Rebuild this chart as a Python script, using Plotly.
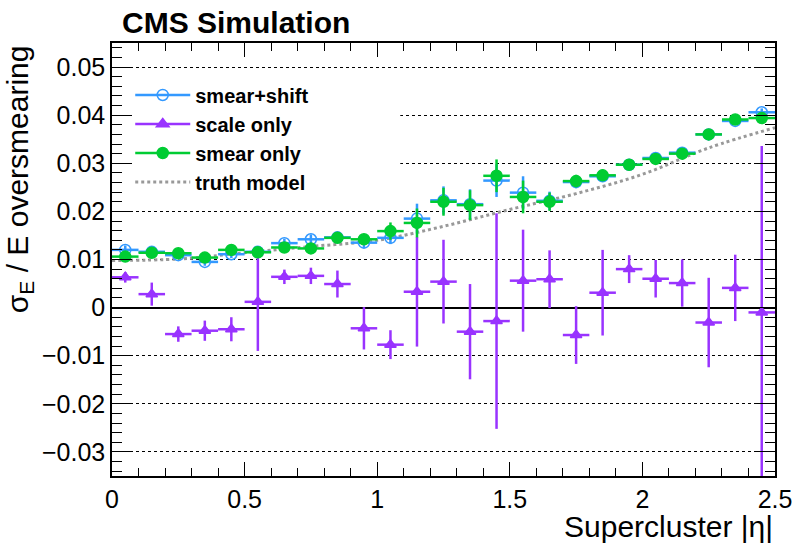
import plotly.graph_objects as go

# |eta| bins, width 0.1
eta_centers = [0.05, 0.15, 0.25, 0.35, 0.45, 0.55, 0.65, 0.75, 0.85, 0.95,
               1.05, 1.15, 1.25, 1.35, 1.45, 1.55, 1.65, 1.75, 1.85, 1.95,
               2.05, 2.15, 2.25, 2.35, 2.45]
eta_halfwidth = [0.05] * 25

smear_shift = [0.0120, 0.0116, 0.0109, 0.0095, 0.0111, 0.0116, 0.0134, 0.0142, 0.0146, 0.0135,
               0.0145, 0.0185, 0.0223, 0.0215, 0.0264, 0.0239, 0.0222, 0.0261, 0.0273, 0.0297,
               0.0311, 0.0322, 0.0360, 0.0388, 0.0406]
smear_shift_err = [0.0009, 0.0007, 0.0007, 0.0008, 0.0008, 0.0008, 0.0009, 0.0010, 0.0010, 0.0011,
                   0.0013, 0.0031, 0.0029, 0.0031, 0.0034, 0.0034, 0.0019, 0.0013, 0.0012, 0.0009,
                   0.0008, 0.0008, 0.0008, 0.0008, 0.0008]

scale_only = [0.0063, 0.0028, -0.0055, -0.0048, -0.0045, 0.0012, 0.0064, 0.0066, 0.0049, -0.0043,
              -0.0077, 0.0033, 0.0054, -0.0050, -0.0028, 0.0056, 0.0059, -0.0057, 0.0031, 0.0080,
              0.0060, 0.0051, -0.0031, 0.0041, -0.0010]
scale_only_err = [0.0011, 0.0024, 0.0016, 0.0021, 0.0025, 0.0102, 0.0015, 0.0017, 0.0028, 0.0044,
                  0.0030, 0.0114, 0.0087, 0.0099, 0.0224, 0.0106, 0.0060, 0.0060, 0.0089, 0.0029,
                  0.0039, 0.0049, 0.0093, 0.0069, 0.0346]

smear_only = [0.0106, 0.0114, 0.0113, 0.0104, 0.0120, 0.0115, 0.0125, 0.0123, 0.0145, 0.0142,
              0.0159, 0.0176, 0.0220, 0.0213, 0.0274, 0.0230, 0.0220, 0.0263, 0.0275, 0.0297,
              0.0309, 0.0320, 0.0360, 0.0391, 0.0394]
smear_only_err = [0.0007, 0.0006, 0.0006, 0.0007, 0.0008, 0.0007, 0.0008, 0.0009, 0.0009, 0.0010,
                  0.0018, 0.0030, 0.0029, 0.0031, 0.0034, 0.0034, 0.0019, 0.0013, 0.0012, 0.0008,
                  0.0008, 0.0008, 0.0008, 0.0007, 0.0007]

truth_eta = [0.0, 0.25, 0.5, 0.75, 1.0, 1.25, 1.5, 1.75, 2.0, 2.25, 2.5]
truth_model = [0.0098, 0.0101, 0.0114, 0.0127, 0.0140, 0.0169, 0.0204, 0.0237, 0.0277, 0.0332, 0.0374]

BLUE = "#3399ff"
PURPLE = "#9933ff"
GREEN = "#00cc33"
GREY = "#999999"
FONT = "Liberation Sans, Arial, sans-serif"

fig = go.Figure()

def data_trace(y, err, color, symbol, size):
    return go.Scatter(
        x=eta_centers, y=y, mode="markers", showlegend=False,
        marker=dict(color=color, symbol=symbol, size=size, line=dict(color=color, width=1.5)),
        error_y=dict(type="data", array=err, color=color, thickness=2.5, width=0),
        error_x=dict(type="data", array=eta_halfwidth, color=color, thickness=2.5, width=0),
    )

fig.add_trace(go.Scatter(x=truth_eta, y=truth_model, mode="lines", showlegend=False,
                         line=dict(color=GREY, width=3, dash="dot", shape="spline")))
fig.add_trace(data_trace(smear_shift, smear_shift_err, BLUE, "circle-open", 11))
fig.add_trace(data_trace(scale_only, scale_only_err, PURPLE, "triangle-up", 10))
fig.add_trace(data_trace(smear_only, smear_only_err, GREEN, "circle", 11))

# legend entries
legend_items = [
    ("smear+shift", BLUE, "circle-open", "lines+markers", "solid"),
    ("scale only", PURPLE, "triangle-up", "lines+markers", "solid"),
    ("smear only", GREEN, "circle", "lines+markers", "solid"),
    ("truth model", GREY, "circle", "lines", "dot"),
]
for i, (name, color, symbol, mode, dash) in enumerate(legend_items):
    fig.add_trace(go.Scatter(
        x=[None], y=[None], name=name, mode=mode, legendgroup=str(i),
        line=dict(color=color, width=3 if dash == "dot" else 2.5, dash=dash),
        marker=dict(color=color, symbol=symbol, size=11, line=dict(color=color, width=1.5)),
    ))

# white box behind the legend hides the grid there
fig.add_shape(type="rect", xref="x", yref="y", x0=0.0, x1=1.087, y0=0.0240, y1=0.0470,
              fillcolor="white", line=dict(width=0), layer="between")

fig.add_annotation(text="<b>CMS Simulation</b>", xref="paper", yref="paper",
                   x=0.0125, y=1.048, xanchor="left", yanchor="middle", showarrow=False,
                   font=dict(family=FONT, size=30, color="black"))
fig.add_annotation(text="Supercluster |η|", xref="paper", yref="paper",
                   x=1.0, y=-0.117, xanchor="right", yanchor="middle", showarrow=False,
                   font=dict(family=FONT, size=30, color="black"))
fig.add_annotation(text="σ<sub>E</sub> / E oversmearing", xref="paper", yref="paper",
                   x=-0.14, y=1.0, xanchor="center", yanchor="top", textangle=-90,
                   showarrow=False, font=dict(family=FONT, size=30, color="black"))

fig.update_layout(
    width=798, height=548,
    margin=dict(l=112, r=23, t=43, b=72, autoexpand=False),
    plot_bgcolor="white", paper_bgcolor="white",
    font=dict(family=FONT, color="black"),
    legend=dict(x=0.0275, y=0.925, xanchor="left", yanchor="top",
                bgcolor="rgba(0,0,0,0)", tracegroupgap=0, itemwidth=55,
                font=dict(family=FONT, size=20, weight="bold", color="black")),
    xaxis=dict(range=[0, 2.5], dtick=0.5, ticks="inside", ticklen=14, tickwidth=1,
               tickcolor="black", showline=True, linecolor="black", linewidth=1.5,
               mirror="allticks", showgrid=False, zeroline=False, automargin=False,
               tickfont=dict(size=25),
               minor=dict(dtick=0.1, ticks="inside", ticklen=8, tickcolor="black", showgrid=False)),
    yaxis=dict(range=[-0.035, 0.055], dtick=0.01, ticks="inside", ticklen=20, tickwidth=1,
               tickcolor="black", showline=True, linecolor="black", linewidth=1.5,
               mirror="allticks", showgrid=True, gridcolor="black", gridwidth=1, griddash="dot",
               zeroline=True, zerolinecolor="black", zerolinewidth=2, automargin=False,
               tickfont=dict(size=25),
               minor=dict(dtick=0.002, ticks="inside", ticklen=10, tickcolor="black", showgrid=False)),
)

# page has a default 8px body margin; drop it so the figure fills the window
fig.write_html("out.html", config={"displayModeBar": False},
               post_script="document.body.style.margin='0px';")
